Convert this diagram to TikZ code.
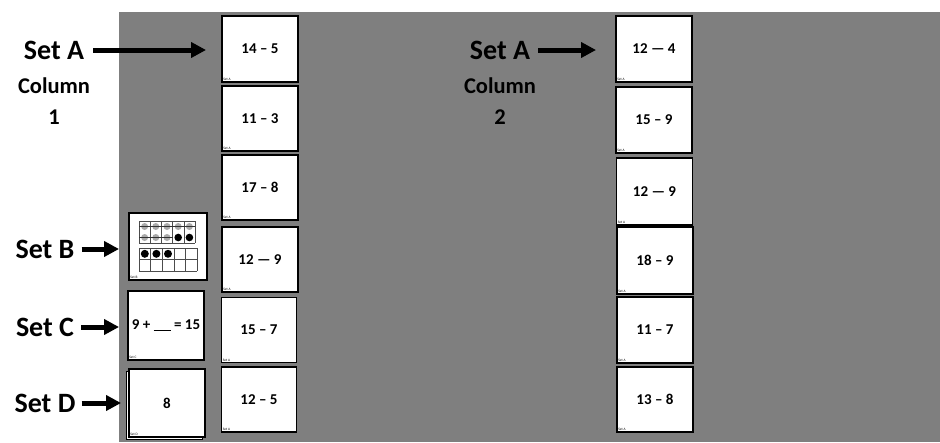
\documentclass[tikz,border=0pt]{standalone}
\usepackage{fontspec}
\setmainfont{Carlito}
\usetikzlibrary{arrows.meta}
\definecolor{bggray}{RGB}{127,127,127}
\definecolor{dotgray}{RGB}{170,170,170}
\tikzset{
  card/.style={draw=black, line width=1.9pt, fill=white, minimum width=76pt, minimum height=65pt, inner sep=0pt, font=\fontsize{15}{17}\selectfont\bfseries},
  tag/.style={font=\fontsize{3.5}{4}\selectfont, inner sep=0.5pt, anchor=south west},
  setlabel/.style={font=\fontsize{28}{30}\selectfont\bfseries, inner sep=0pt},
  collabel/.style={font=\fontsize{22.5}{24}\selectfont\bfseries, inner sep=0pt, align=center},
  bigarrow/.style={line width=5pt, -{Triangle[length=15pt,width=15pt]}},
  gridline/.style={draw=black!70, line width=0.5pt},
}
\begin{document}
\begin{tikzpicture}[x=1pt,y=-1pt]
\useasboundingbox (0,0) rectangle (940,442);
\fill[bggray] (119,12) rectangle (940,442);

% column 1 cards
\node[card, minimum height=66pt] (a1) at (260,49) {14 -- 5};
\node[card] (a2) at (260,118.5) {11 -- 3};
\node[card] (a3) at (260,187.5) {17 -- 8};
\node[card] (a4) at (260,259.5) {12 --- 9};
\node[card, minimum width=75pt] (a5) at (259,330) {15 -- 7};
\node[card, minimum width=75pt] (a6) at (259,399.5) {12 -- 5};

% column 2 cards
\node[card, minimum height=66pt] (b1) at (654,49) {12 --- 4};
\node[card, minimum height=66pt] (b2) at (654,120) {15 -- 9};
\node[card, minimum height=67pt] (b3) at (654.5,191.5) {12 --- 9};
\node[card, minimum height=67pt] (b4) at (655,260.5) {18 -- 9};
\node[card, minimum height=66pt] (b5) at (655,330) {11 -- 7};
\node[card] (b6) at (655,399.5) {13 -- 8};

% set B, C, D cards
\node[card, minimum width=78pt, minimum height=67pt] (cb) at (168,246.5) {};
\node[card, minimum width=76pt, minimum height=69pt] (cc) at (166,325.5) {9 + \rule[-1.5pt]{17pt}{1.4pt} = 15};
\node[card, minimum width=76pt, minimum height=68pt, line width=1.2pt] (cdback) at (164.5,405.5) {};
\node[card, minimum width=76pt, minimum height=68pt] (cd) at (167,403) {8};

% tags
\foreach \c in {a1,a2,a3,a4,a5,a6,b1,b2,b3,b4,b5,b6}
  \node[tag] at ([shift={(1.5pt,1.5pt)}]\c.south west) {Set A};
\node[tag] at ([shift={(1.5pt,1.5pt)}]cb.south west) {Set B};
\node[tag] at ([shift={(1.5pt,1.5pt)}]cc.south west) {Set C};
\node[tag] at ([shift={(1.5pt,1.5pt)}]cd.south west) {Set D};

% ten frames in set B card
\begin{scope}
  % top frame
  \foreach \i in {0,...,5} \draw[gridline] (139+11.2*\i,221) -- (139+11.2*\i,243);
  \draw[gridline] (139,221) -- (195,221);
  \draw[gridline] (139,243) -- (195,243);
  \foreach \i in {0,...,4} \fill[dotgray] (144.6+11.2*\i,226.5) circle (3.5pt);
  \foreach \i in {0,...,2} \fill[dotgray] (144.6+11.2*\i,237.5) circle (3.5pt);
  \foreach \i in {3,4} \fill[black] (144.6+11.2*\i,237.5) circle (3.8pt);
  \draw[black!80, line width=0.6pt] (139,226.5) -- (195,226.5);
  \draw[black!80, line width=0.6pt] (139,237.5) -- (173,237.5);
  % bottom frame
  \foreach \i in {0,...,5} \draw[gridline] (139+11.6*\i,248) -- (139+11.6*\i,271);
  \draw[gridline] (139,248) -- (197,248);
  \draw[gridline] (139,259.5) -- (197,259.5);
  \draw[gridline] (139,271) -- (197,271);
  \foreach \i in {0,...,2} \fill[black] (144.8+11.6*\i,253.8) circle (4pt);
\end{scope}

% labels column 1
\node[setlabel] (la1) at (54,50) {Set A};
\node[collabel] (lc1) at (54,86) {Column};
\node[collabel] (ln1) at (54,117) {1};
\node[setlabel] (lb) at (45,249) {Set B};
\node[setlabel] (lcc) at (45,327) {Set C};
\node[setlabel] (ld) at (45,403) {Set D};

% labels column 2
\node[setlabel] (la2) at (500,50) {Set A};
\node[collabel] (lc2) at (500,86) {Column};
\node[collabel] (ln2) at (500,117) {2};

% arrows
\draw[bigarrow, shorten <=9pt, shorten >=15pt] (la1.east) -- (a1.west |- la1.east);
\draw[bigarrow, shorten <=7pt, shorten >=9pt] (lb.east) -- (cb.west |- lb.east);
\draw[bigarrow, shorten <=7pt, shorten >=8pt] (lcc.east) -- (cc.west |- lcc.east);
\draw[bigarrow, shorten <=6pt, shorten >=7pt] (ld.east) -- (cd.west |- ld.east);
\draw[bigarrow, shorten <=8pt, shorten >=19pt] (la2.east) -- (b1.west |- la2.east);
\end{tikzpicture}
\end{document}
